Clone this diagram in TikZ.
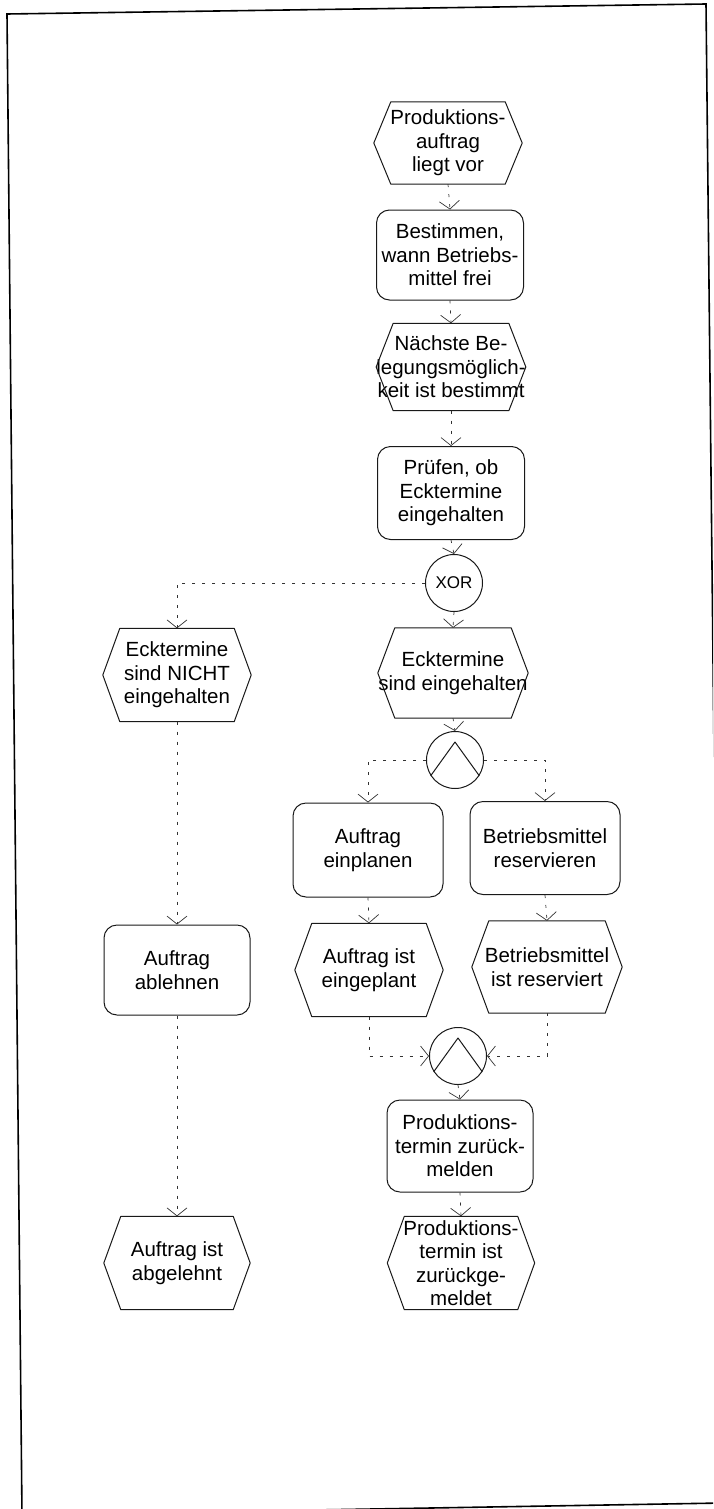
\documentclass[tikz,border=0pt]{standalone}
\usepackage{fontspec}
\setmainfont{Liberation Sans}
\usetikzlibrary{arrows.meta}

\newlength\hexinset
\setlength\hexinset{17pt}

\tikzset{
  txt/.style={inner sep=0pt, align=center, font=\fontsize{20.5}{23.5}\selectfont},
  outline/.style={draw=black!90, line width=1pt, line join=round},
  evtbox/.style={txt},
  fnbox/.style={txt, outline, rounded corners=13pt},
  gate/.style={outline, circle, inner sep=0pt, minimum size=57pt,
               font=\fontsize{17}{20}\selectfont},
  conn/.style={draw=black!80, line width=0.7pt, dash pattern=on 3pt off 7pt,
               -{Straight Barb[length=8pt,width=20pt]}},
  frameline/.style={draw=black, line width=1.6pt, line join=miter},
}

% event: hexagon around a text node
\newcommand\eventhex[6]{%
  \node[evtbox, minimum width=#4pt, minimum height=#5pt] (#1) at (#2,#3) {#6};
  \draw[outline] (#1.west) -- ([xshift=\hexinset]#1.north west)
    -- ([xshift=-\hexinset]#1.north east) -- (#1.east)
    -- ([xshift=-\hexinset]#1.south east) -- ([xshift=\hexinset]#1.south west)
    -- cycle;
}
% function: rounded box
\newcommand\funcbox[6]{%
  \node[fnbox, minimum width=#4pt, minimum height=#5pt] (#1) at (#2,#3) {#6};
}
% AND connector
\newcommand\andgate[3]{%
  \node[gate] (#1) at (#2,#3) {};
  \draw[outline] (#1.213) -- ([yshift=18pt]#1.center) -- (#1.327);
}

\begin{document}
\begin{tikzpicture}[x=1pt, y=-1pt]
\useasboundingbox (0,0) rectangle (713,1509);
\clip (0,0) rectangle (713,1509);

% page frame
\draw[frameline] (7,14) -- (706,4) -- (722,1503) -- (22,1515) -- cycle;

% main column
\eventhex{e1}{448}{143}{148}{82}{Produktions-\\auftrag\\liegt vor}
\funcbox{f1}{450}{255}{147}{90}{Bestimmen,\\wann Betriebs-\\mittel frei}
\eventhex{e2}{451}{367}{146}{87}{Nächste Be-\\legungsmöglich-\\keit ist bestimmt}
\funcbox{f2}{451}{493}{147}{93}{Prüfen, ob\\Ecktermine\\eingehalten}
\node[gate] (xor) at (454,583) {XOR};
\eventhex{e4}{453}{673}{150}{90}{Ecktermine\\sind eingehalten}
\andgate{and1}{455}{760}
\funcbox{f3}{368}{850}{150}{94}{Auftrag\\einplanen}
\funcbox{f4}{545}{848}{150}{93}{Betriebsmittel\\reservieren}
\eventhex{e5}{369}{970}{148}{93}{Auftrag ist\\eingeplant}
\eventhex{e6}{547}{967}{150}{92}{Betriebsmittel\\ist reserviert}
\andgate{and2}{458}{1056}
\funcbox{f5}{460}{1146}{146}{92}{Produktions-\\termin zurück-\\melden}
\eventhex{e7}{461}{1263}{147}{93}{Produktions-\\termin ist\\zurückge-\\meldet}

% rejection branch
\eventhex{e3}{177}{675}{148}{93}{Ecktermine\\sind NICHT\\eingehalten}
\funcbox{f6}{177}{970}{146}{90}{Auftrag\\ablehnen}
\eventhex{e8}{177}{1263}{146}{93}{Auftrag ist\\abgelehnt}

% control flow
\draw[conn] (e1.south) -- (f1.north);
\draw[conn] (f1.south) -- (e2.north);
\draw[conn] (e2.south) -- (f2.north);
\draw[conn] (f2.south) -- (xor.north);
\draw[conn] (xor.west) -| (e3.north);
\draw[conn] (xor.south) -- (e4.north);
\draw[conn] (e4.south) -- (and1.north);
\draw[conn] (and1.west) -| (f3.north);
\draw[conn] (and1.east) -| (f4.north);
\draw[conn] (f3.south) -- (e5.north);
\draw[conn] (f4.south) -- (e6.north);
\draw[conn] (e5.south) |- (and2.west);
\draw[conn] (e6.south) |- (and2.east);
\draw[conn] (and2.south) -- (f5.north);
\draw[conn] (f5.south) -- (e7.north);
\draw[conn] (e3.south) -- (f6.north);
\draw[conn] (f6.south) -- (e8.north);
\end{tikzpicture}
\end{document}
